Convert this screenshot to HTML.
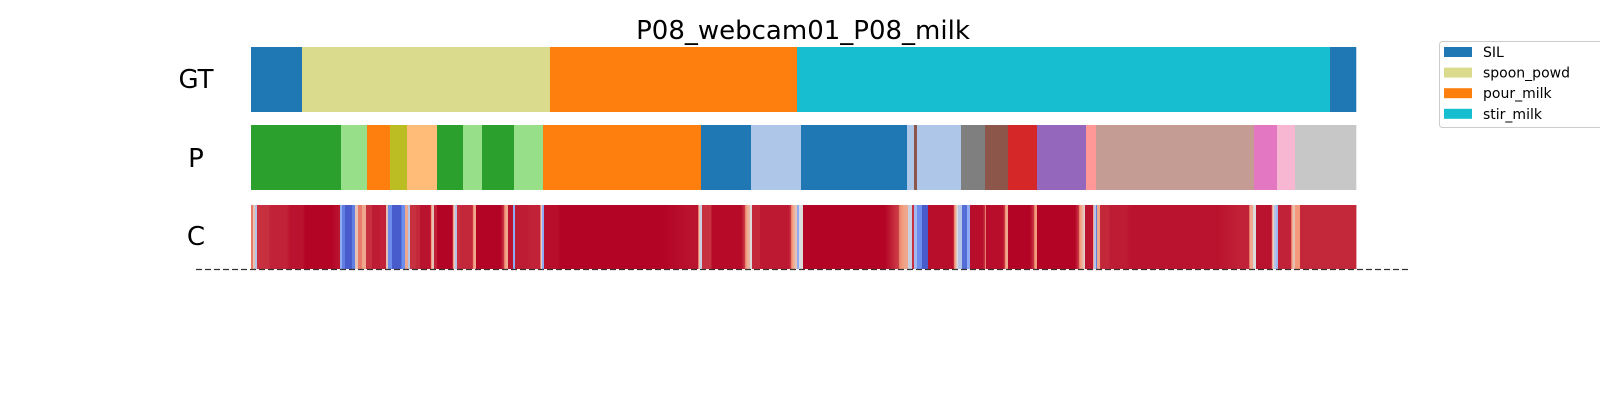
<!DOCTYPE html>
<html><head><meta charset="utf-8"><style>
html,body{margin:0;padding:0;background:#fff;}
svg{display:block;font-family:"DejaVu Sans","Liberation Sans",sans-serif;}
</style></head><body>
<svg id="chart" width="1600" height="400" viewBox="0 0 1600 400">
<text x="803" y="39" font-size="26" text-anchor="middle">P08_webcam01_P08_milk</text>
<text x="196" y="88" font-size="26" text-anchor="middle">GT</text>
<text x="196" y="167" font-size="26" text-anchor="middle">P</text>
<text x="196" y="245" font-size="26" text-anchor="middle">C</text>
<g id="gt"></g>
<g id="pr"></g>
<g id="cf"></g>
<line x1="196" y1="269.5" x2="1410" y2="269.5" stroke="#333" stroke-width="1.3" stroke-dasharray="6,3"/>
<g>
<rect x="1439.5" y="41.5" width="170" height="86" rx="3" fill="#fff" stroke="#ccc"/>
<g id="leg"></g>
</g>
</svg>
<script>
const ns="http://www.w3.org/2000/svg";
const X0=251,X1=1356,TOTAL=1105;
// ground-truth segments (frame units)
const gtStarts=[0,51,299,546,1079];
const gtLabels=["SIL","spoon_powder","pour_milk","stir_milk","SIL"];
const gtColors={"SIL":"#1f77b4","spoon_powder":"#dbdb8d","pour_milk":"#ff7f0e","stir_milk":"#17becf"};
// predicted segments
const pStarts=[0,90,116,139,156,186,212,231,263,292,450,500,550,656,663,666,710,734,757,786,835,845,1003,1026,1044];
const pColors=["#2ca02c","#98df8a","#ff7f0e","#bcbd22","#ffbb78","#2ca02c","#98df8a","#2ca02c","#98df8a","#ff7f0e","#1f77b4","#aec7e8","#1f77b4","#aec7e8","#8c564b","#aec7e8","#7f7f7f","#8c564b","#d62728","#9467bd","#ff9896","#c49c94","#e377c2","#f7b6d2","#c7c7c7"];
// confidence keyframes
const cFrames=[0,2,4,6,9,19,39,54,87,89,91,94,101,104,107,111,115,121,129,135,137,141,151,154,157,159,165,169,181,183,186,204,206,209,223,225,255,257,262,264,279,291,293,309,439,448,449,451,461,497,499,501,509,544,546,548,552,654,657,661,663,666,671,677,707,711,716,719,734,735,755,757,784,786,833,834,843,845,846,849,859,879,989,999,1002,1005,1023,1025,1027,1042,1044,1049];
const cValues=[0.8,0.6,0.4,0.85,0.85,0.9,0.95,1.0,0.95,0.3,0.15,0.05,0.15,0.6,0.8,0.7,0.85,0.92,0.9,0.6,0.2,0.05,0.2,0.7,0.4,0.85,0.88,0.95,0.6,0.9,1.0,0.4,0.85,0.88,0.7,1.0,0.7,0.95,0.3,0.92,0.9,0.3,0.97,1.0,0.95,0.6,0.45,0.85,0.98,0.65,0.5,0.88,0.93,0.6,0.3,0.5,1.0,0.7,0.45,0.85,0.35,0.2,0.05,0.97,0.4,0.1,0.3,0.97,0.8,0.97,0.7,1.0,0.75,1.0,0.55,0.95,0.4,0.15,0.7,0.88,0.92,0.95,0.9,0.7,0.5,0.95,0.4,0.35,0.9,0.6,0.75,0.88];
const xs=f=>X0+f*(X1-X0)/TOTAL;
const stops=[[0,[59,76,192]],[0.25,[123,159,249]],[0.5,[221,220,220]],[0.75,[244,154,123]],[1,[180,4,38]]];
function cw(v){if(v>0.8)v=0.9+(v-0.8)*0.5;for(let i=1;i<stops.length;i++){if(v<=stops[i][0]){const a=stops[i-1],b=stops[i],t=(v-a[0])/(b[0]-a[0]);return "rgb("+a[1].map((c,k)=>Math.round(c+(b[1][k]-c)*t)).join(",")+")";}}return "rgb(180,4,38)";}
function rect(g,x,y,w,h,fill){const r=document.createElementNS(ns,"rect");r.setAttribute("x",x);r.setAttribute("y",y);r.setAttribute("width",w);r.setAttribute("height",h);r.setAttribute("fill",fill);g.appendChild(r);return r;}
const gt=document.getElementById("gt");
gtStarts.forEach((s,i)=>{const e=i+1<gtStarts.length?gtStarts[i+1]:TOTAL;const r=rect(gt,xs(s),47,xs(e)-xs(s)+0.3,65,gtColors[gtLabels[i]]);

});
const pr=document.getElementById("pr");
pStarts.forEach((s,i)=>{const e=i+1<pStarts.length?pStarts[i+1]:TOTAL;const r=rect(pr,xs(s),125,xs(e)-xs(s)+0.3,65,pColors[i]);

});
const cf=document.getElementById("cf");
for(let f=0;f<TOTAL;f++){let j=0;while(j+1<cFrames.length&&cFrames[j+1]<=f)j++;let v=cValues[j];
if(j+1<cFrames.length){const t=(f-cFrames[j])/(cFrames[j+1]-cFrames[j]);if(cFrames[j+1]-cFrames[j]>8)v=v+(cValues[j+1]-v)*Math.max(0,t-0.8)*5;}
const r=rect(cf,xs(f),205,xs(f+1)-xs(f)+0.4,64,cw(v));

}
const legLabels=["SIL","spoon_powd","pour_milk","stir_milk"];
const legColors=["#1f77b4","#dbdb8d","#ff7f0e","#17becf"];
const leg=document.getElementById("leg");
legLabels.forEach((l,i)=>{const y=47+i*20.6;const r=rect(leg,1444,y,28,10,legColors[i]);


const t=document.createElementNS(ns,"text");t.setAttribute("x",1483);t.setAttribute("y",y+10);t.setAttribute("font-size","14");t.textContent=l;


leg.appendChild(t);});
</script>
</body></html>
